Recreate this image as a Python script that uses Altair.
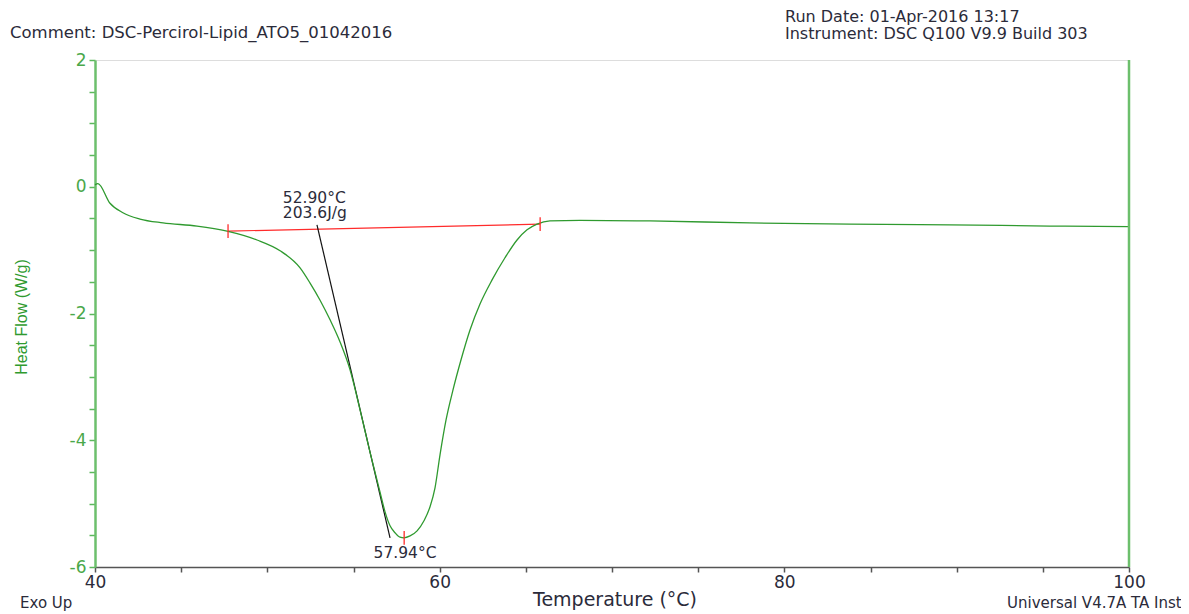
import altair as alt
import pandas as pd

# DSC curve (temperature in °C, heat flow in W/g)
temp = [40.0, 40.17, 40.87, 41.62, 42.61, 43.95, 45.92, 47.66, 49.40, 50.74,
        51.90, 52.48, 53.06, 53.64, 54.22, 54.80, 55.38, 55.96, 56.54, 56.83,
        57.12, 57.41, 57.70, 57.93, 58.28, 58.69, 59.09, 59.44, 59.73, 60.02,
        60.37, 60.77, 61.24, 61.76, 62.34, 63.04, 63.79, 64.49, 65.07, 65.65,
        66.40, 68.14, 72.2, 78.0, 83.8, 89.6, 95.4, 100.0]
heat = [0.03, 0.05, -0.26, -0.41, -0.51, -0.57, -0.62, -0.70, -0.84, -1.01,
        -1.28, -1.52, -1.79, -2.10, -2.45, -2.89, -3.52, -4.19, -4.82, -5.13,
        -5.35, -5.46, -5.53, -5.54, -5.51, -5.43, -5.27, -5.05, -4.75, -4.23,
        -3.68, -3.21, -2.73, -2.26, -1.85, -1.47, -1.12, -0.84, -0.68, -0.59,
        -0.54, -0.53, -0.54, -0.57, -0.59, -0.60, -0.62, -0.63]

base_t = [47.72, 65.83]
base_hf = [-0.70, -0.59]
tan_t = [52.88, 57.12]
tan_hf = [-0.60, -5.54]
mark_t = [47.72, 65.83, 57.94]
mark_hf = [-0.70, -0.59, -5.54]

ann_text = ["52.90°C", "203.6J/g"]
ann_t = [50.9, 50.9]
ann_hf = [-0.17, -0.42]
peak_text = ["57.94°C"]
peak_t = [57.99]
peak_hf = [-5.78]

x_ticks = list(range(40, 101, 5))
y_ticks = [-6 + 0.5 * i for i in range(17)]

W, H = 1034, 507
FONT = "DejaVu Sans"
FONT2 = "Liberation Sans"
GREEN = "#2f9a2f"
RED = "#ff2b2b"
TXT = "#2b2b3a"

xs = alt.Scale(domain=[40, 100], nice=False, zero=False)
ys = alt.Scale(domain=[-6, 2], nice=False, zero=False)

x_axis = alt.Axis(
    values=x_ticks, labelExpr="datum.value % 20 == 0 ? datum.label : ''",
    title=None, grid=False, domainColor="#555555", domainWidth=1.5,
    tickColor="#555555", tickSize=5, tickWidth=1.5, labelFontSize=17,
    labelColor=TXT, labelFont=FONT, labelPadding=2, labelFlush=False)
y_axis = alt.Axis(
    values=y_ticks, labelExpr="datum.value % 2 == 0 ? toString(datum.value) : ''",
    title=None, grid=False, domainColor="#6cbf6c", domainWidth=2.5,
    tickColor="#5cb85c", tickSize=6, tickWidth=1.5, labelFontSize=17,
    labelColor="#4aa84a", labelFont=FONT, labelPadding=3, labelFlush=False)


def X(field="T"):
    return alt.X(f"{field}:Q", scale=xs, axis=x_axis)


def Y(field="HF"):
    return alt.Y(f"{field}:Q", scale=ys, axis=y_axis)


curve_df = pd.DataFrame({"T": temp, "HF": heat})
curve = alt.Chart(curve_df).mark_line(color=GREEN, strokeWidth=1.3, interpolate="monotone").encode(
    x=X(), y=Y())

base_df = pd.DataFrame({"T": base_t, "HF": base_hf})
baseline = alt.Chart(base_df).mark_line(color=RED, strokeWidth=1.2).encode(x=X(), y=Y())

tan_df = pd.DataFrame({"T": tan_t, "HF": tan_hf})
tangent = alt.Chart(tan_df).mark_line(color="#111111", strokeWidth=1.2).encode(x=X(), y=Y())

mk_df = pd.DataFrame({"T": mark_t, "lo": [v - 0.11 for v in mark_hf], "hi": [v + 0.11 for v in mark_hf]})
markers = alt.Chart(mk_df).mark_rule(color=RED, strokeWidth=1.3).encode(
    x=X(), y=Y("lo"), y2="hi:Q")

ann_df = pd.DataFrame({"T": ann_t, "HF": ann_hf, "txt": ann_text})
ann = alt.Chart(ann_df).mark_text(align="left", baseline="middle", font=FONT, fontSize=15.5, color=TXT).encode(
    x=X(), y=Y(), text="txt:N")

pk_df = pd.DataFrame({"T": peak_t, "HF": peak_hf, "txt": peak_text})
pk = alt.Chart(pk_df).mark_text(align="center", baseline="middle", font=FONT, fontSize=15.5, color=TXT).encode(
    x=X(), y=Y(), text="txt:N")

right_line = alt.Chart(pd.DataFrame({"a": [0]})).mark_rule(color="#6cbf6c", strokeWidth=2.5).encode(
    x=alt.value(W), y=alt.value(0), y2=alt.value(H))


def label(text, px, py, size=16, align="left", color=TXT, angle=0, font=FONT):
    kw = dict(align=align, baseline="middle", font=font, fontSize=size, color=color)
    if angle:
        kw["angle"] = angle
    return alt.Chart(pd.DataFrame({"t": [text]})).mark_text(**kw).encode(
        x=alt.value(px), y=alt.value(py), text="t:N")


texts = [
    label("Comment: DSC-Percirol-Lipid_ATO5_01042016", -85, -27, size=16.5),
    label("Run Date: 01-Apr-2016 13:17", 690, -43),
    label("Instrument: DSC Q100 V9.9 Build 303", 690, -26),
    label("Temperature (°C)", 520, 540, size=19, align="center"),
    label("Exo Up", -75, 543, size=15),
    label("Universal V4.7A TA Instruments", 912, 543, size=15),
    label("Heat Flow (W/g)", -73, 257, size=16, align="center", color=GREEN, angle=270, font=FONT2),
]

chart = alt.layer(baseline, tangent, curve, markers, ann, pk, right_line, *texts).properties(
    width=W, height=H,
    autosize=alt.AutoSizeParams(type="none"),
    padding={"left": 87, "top": 52, "right": 52, "bottom": 46},
).configure_view(stroke="#333333", strokeWidth=1.2).configure(background="white")

chart.save("out.html", embed_options={"renderer": "svg", "actions": False})
